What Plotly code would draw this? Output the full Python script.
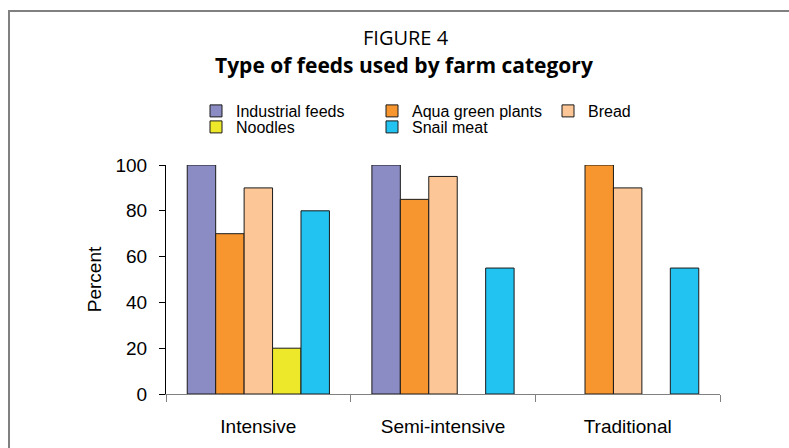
import plotly.graph_objects as go

# Farm categories and share of farms (%) using each feed type
categories = ["Intensive", "Semi-intensive", "Traditional"]
industrial_feeds = [100, 100, None]
aqua_green_plants = [70, 85, 100]
bread = [90, 95, 90]
noodles = [20, None, None]
snail_meat = [80, 55, 55]

y_ticks = [0, 20, 40, 60, 80, 100]

series = [
    ("Industrial feeds", industrial_feeds, "#8B8CC3", "legend"),
    ("Aqua green plants", aqua_green_plants, "#F7962F", "legend"),
    ("Bread", bread, "#FDC697", "legend"),
    ("Noodles", noodles, "#EEE82A", "legend2"),
    ("Snail meat", snail_meat, "#22C3F0", "legend2"),
]

W, H = 789, 448
L, R, T, B = 166, 69, 165, 54
plot_w = W - L - R
plot_h = H - T - B


def px_x(p):
    return (p - L) / plot_w


def px_y(p):
    return (H - B - p) / plot_h


fig = go.Figure()
for name, vals, color, leg in series:
    fig.add_trace(go.Bar(
        name=name, x=categories, y=vals,
        marker=dict(color=color, line=dict(color="#1a1a1a", width=1)),
        legend=leg,
    ))

text_font = "Arial, Liberation Sans, sans-serif"
legend_common = dict(
    orientation="h", xanchor="left", yanchor="middle",
    entrywidth=131, entrywidthmode="pixels",
    font=dict(family=text_font, size=16, color="#000"),
    bgcolor="rgba(0,0,0,0)", borderwidth=0,
    itemclick=False, itemdoubleclick=False,
)

fig.update_layout(
    width=W, height=H,
    margin=dict(l=L, r=R, t=T, b=B, pad=0),
    paper_bgcolor="white", plot_bgcolor="white",
    barmode="group", bargap=0.23, bargroupgap=0,
    showlegend=True,
    legend=dict(x=px_x(196), y=px_y(111), **legend_common),
    legend2=dict(x=px_x(196), y=px_y(127), **legend_common),
    xaxis=dict(
        type="category", showline=True, linecolor="#808080", linewidth=1,
        ticks="outside", tickson="boundaries", ticklen=7, tickcolor="#808080",
        tickfont=dict(family=text_font, size=19, color="#000"),
        ticklabelstandoff=15, showgrid=False, zeroline=False,
    ),
    yaxis=dict(
        range=[0, 100], tickvals=y_ticks, showline=True, linecolor="#000",
        linewidth=1, ticks="outside", ticklen=6, tickcolor="#000",
        tickfont=dict(family=text_font, size=19, color="#000"),
        ticklabelstandoff=8, showgrid=False, zeroline=False,
        title=dict(text="Percent", standoff=8,
                   font=dict(family=text_font, size=19, color="#000")),
    ),
    annotations=[
        dict(text="FIGURE 4", xref="paper", yref="paper",
             x=px_x(406), y=px_y(38), xanchor="center", yanchor="middle",
             showarrow=False,
             font=dict(family="Open Sans, sans-serif", size=20, color="#000")),
        dict(text="<b>Type of feeds used by farm category</b>",
             xref="paper", yref="paper",
             x=px_x(404), y=px_y(65), xanchor="center", yanchor="middle",
             showarrow=False,
             font=dict(family="Open Sans, sans-serif", size=21, color="#000")),
    ],
    shapes=[
        # frame around the figure, running off the right and bottom edges
        dict(type="rect", xref="paper", yref="paper",
             x0=px_x(9), x1=px_x(W + 20), y0=px_y(H + 20), y1=px_y(11),
             line=dict(color="#808080", width=2), fillcolor="rgba(0,0,0,0)",
             layer="above"),
    ],
)

fig.write_html("out.html")
